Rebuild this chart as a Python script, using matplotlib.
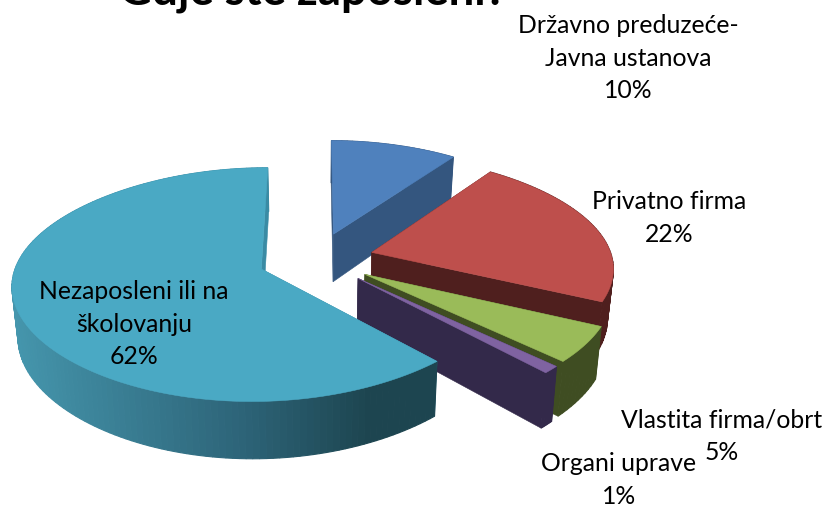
import numpy as np
import matplotlib
matplotlib.use("Agg")
import matplotlib.pyplot as plt
from matplotlib.patches import Polygon
from matplotlib.colors import to_rgb

title = "Gdje ste zaposleni?"
categories = ["Državno preduzeće-\nJavna ustanova", "Privatno firma", "Vlastita firma/obrt",
              "Organi uprave", "Nezaposleni ili na\nškolovanju"]
values = [10, 22, 5, 1, 62]
top_colors = ["#4F81BD", "#BE4F4C", "#9ABB59", "#7F63A1", "#4AA9C4"]
side_colors = ["#34567F", "#4F1F1E", "#3F4D22", "#33294A", "#3A8BA4"]
label_xy = [(628, 58), (669, 218), (722, 436), (619, 480), (134, 324)]

CX, CY, A, B, K, Q = 316.0, 260.0, 242.0, 112.0, 0.132, 0.004
EXPLODE, THICK, SHRINK, WARP = 0.24, 49.0, 0.98, 0.04


def project(x, y, bottom=False):
    d = 1 + K * y + Q * x
    sx = A * x / d
    sy = B * y / d
    if bottom:
        return CX + sx * SHRINK, CY - sy + THICK / d
    return CX + sx, CY - sy


def radial(th):
    rx = np.sin(th)
    return rx * (1 - WARP * (1 - rx ** 2)), np.cos(th)


fig = plt.figure(figsize=(8.26, 5.06), dpi=100)
ax = fig.add_axes([0, 0, 1, 1])
ax.set_xlim(0, 826)
ax.set_ylim(506, 0)
ax.axis("off")

fractions = np.array(values) / sum(values)
edges = np.concatenate([[0], np.cumsum(fractions)]) * 2 * np.pi


def quad(p, c, z, lw=0.4):
    ax.add_patch(Polygon(p, closed=True, fc=c, ec=c, lw=lw, zorder=z))


c0, c1, c2 = map(np.array, (to_rgb("#4596AD"), to_rgb("#2D6478"), to_rgb("#1D4550")))

for i in range(len(values)):
    a0, a1 = edges[i], edges[i + 1]
    mid = (a0 + a1) / 2
    ax0, ay0 = EXPLODE * np.sin(mid), EXPLODE * np.cos(mid)
    th = np.linspace(a0, a1, max(8, int((a1 - a0) * 40)))
    rx, ry = radial(th)
    xs = ax0 + rx
    ys = ay0 + ry
    z = 10 + i
    # radial faces
    for k in (0, -1):
        ex, ey = xs[k], ys[k]
        quad([project(ax0, ay0), project(ex, ey), project(ex, ey, True), project(ax0, ay0, True)],
             side_colors[i], z)
    # outer rim
    for j in range(len(th) - 1):
        p0, p1 = project(xs[j], ys[j]), project(xs[j + 1], ys[j + 1])
        b1, b0 = project(xs[j + 1], ys[j + 1], True), project(xs[j], ys[j], True)
        if i == len(values) - 1 and ys[j] < 0.1:
            t = np.clip((p0[0] - 11) / 425, 0, 1)
            col = c0 + (c1 - c0) * t / 0.55 if t < 0.55 else c1 + (c2 - c1) * (t - 0.55) / 0.3
            col = tuple(np.clip(col, c2, 1))
        else:
            col = side_colors[i]
        quad([p0, p1, b1, b0], col, z, lw=0.8)
    # top surface
    pts = [project(ax0, ay0)] + [project(x, y) for x, y in zip(xs, ys)]
    ax.add_patch(Polygon(pts, closed=True, fc=top_colors[i], ec=top_colors[i], lw=0.4, zorder=z))
    ax.text(label_xy[i][0], label_xy[i][1],
            f"{categories[i]}\n{values[i]}%", ha="center", va="center",
            family="Lato", fontsize=17.8, linespacing=1.5, color="black", zorder=30)

ax.text(312.5, 4, title, ha="center", va="baseline", family="Lato", weight="bold",
        fontsize=32.8, color="black", zorder=30)

fig.savefig("out.png", dpi=100)
